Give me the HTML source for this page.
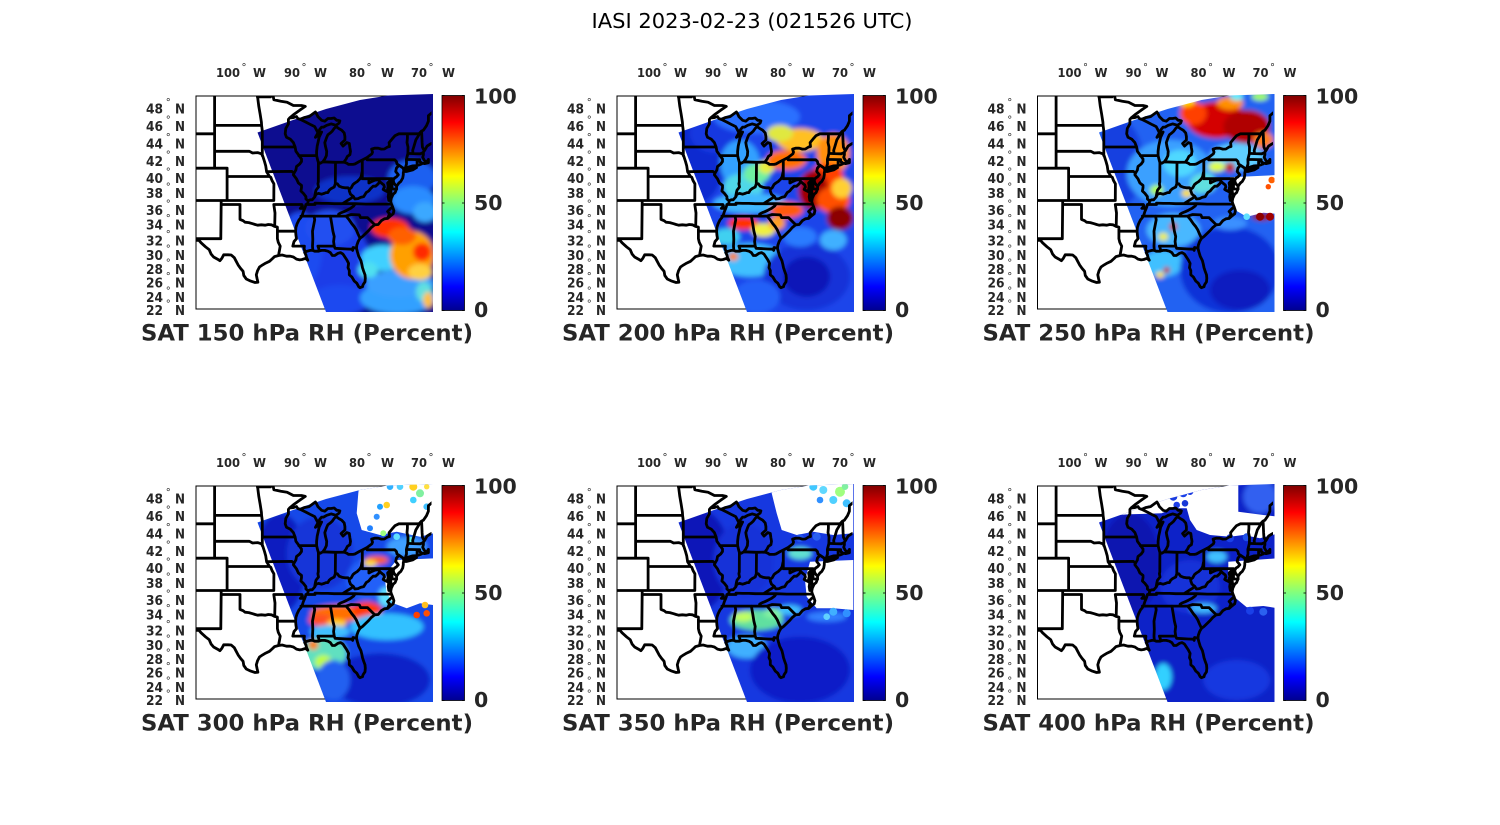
<!DOCTYPE html>
<html><head><meta charset="utf-8">
<style>
html,body{margin:0;padding:0;background:#fff;width:1500px;height:825px;overflow:hidden;}
svg{display:block;}
text{font-family:"DejaVu Sans","Liberation Sans",sans-serif;}
</style></head>
<body>
<svg id="s" width="1500" height="825" viewBox="0 0 1500 825" xmlns="http://www.w3.org/2000/svg">
<defs>
 <linearGradient id="jet" x1="0" y1="1" x2="0" y2="0">
  <stop offset="0" stop-color="#00008f"/>
  <stop offset="0.11" stop-color="#0000ff"/>
  <stop offset="0.365" stop-color="#00ffff"/>
  <stop offset="0.5" stop-color="#80ff80"/>
  <stop offset="0.625" stop-color="#ffff00"/>
  <stop offset="0.875" stop-color="#ff0000"/>
  <stop offset="1" stop-color="#800000"/>
 </linearGradient>
 <clipPath id="boxclip"><rect x="196" y="96" width="235.5" height="213"/></clipPath>
 <clipPath id="swath"><polygon points="257.5,132.5 293,120 326,109 360,100 388,95.5 433,94 433,312 326,312"/></clipPath>
 <filter id="blur" x="-20%" y="-20%" width="140%" height="140%"><feGaussianBlur stdDeviation="2.5"/></filter>
</defs>
<rect x="0" y="0" width="1500" height="825" fill="#fff"/>
<text x="752" y="28" font-size="20.5" text-anchor="middle" textLength="321" lengthAdjust="spacingAndGlyphs" fill="#000">IASI 2023-02-23 (021526 UTC)</text>
</svg>
<script>
const NS="http://www.w3.org/2000/svg";
const svg=document.getElementById('s');
function el(tag,attrs,parent,text){const e=document.createElementNS(NS,tag);for(const k in attrs)e.setAttribute(k,attrs[k]);if(text!=null)e.textContent=text;(parent||svg).appendChild(e);return e;}
function merc(lat){return Math.log(Math.tan(Math.PI/4+lat*Math.PI/360));}
function P(lw,lat){return [240+(100-lw)*6.28, 451.1-360*merc(lat)];}
const LINES=[
[[104.05,49.6],[104.05,41.0]],
[[108,45.0],[104.05,45.0]],
[[108,41.0],[102.05,41.0],[102.05,37.0]],
[[108,37.0],[94.62,37.0]],
[[103.0,37.0],[103.06,32.0],[108,32.0]],
[[103.0,36.5],[100.0,36.5],[100.0,34.56],[99.5,34.4],[99.2,34.2],[98.6,34.15],[98.0,34.0],[97.6,33.9],[97.2,33.8],[96.6,33.85],[96.0,33.8],[95.5,33.9],[95.0,33.85],[94.5,33.65],[94.04,33.55],[94.04,33.0],[94.04,32.0],[93.9,31.5],[93.6,31.0],[93.7,30.5],[93.8,30.0],[93.85,29.7]],
[[94.04,33.0],[91.15,33.0]],
[[94.62,36.5],[94.43,35.4],[94.48,33.64]],
[[94.62,37.0],[94.6,39.1],[94.9,39.5],[95.1,39.9],[95.31,40.0],[95.77,40.58],[95.9,41.3],[96.1,41.8],[96.4,42.5],[96.6,42.7],[97.2,42.85],[98.0,42.8],[98.5,43.0],[104.05,43.0]],
[[102.05,40.0],[95.31,40.0]],
[[104.05,45.94],[96.56,45.94]],
[[97.23,49.6],[97.2,49.0],[97.0,48.0],[96.8,47.2],[96.6,46.3],[96.56,45.94],[96.5,45.6],[96.45,45.3],[96.45,43.5],[96.45,42.5]],
[[96.45,43.5],[91.22,43.5]],
[[95.77,40.58],[91.73,40.61],[91.4,40.4]],
[[92.1,46.75],[92.3,46.6],[92.3,46.1],[92.7,45.6],[92.8,45.0],[92.6,44.6],[92.0,44.4],[91.5,44.0],[91.22,43.5],[91.1,43.0],[90.7,42.6],[90.2,42.1],[90.2,41.8],[90.5,41.5],[91.0,41.2],[91.1,40.8],[91.4,40.4],[91.5,40.2],[91.0,39.7],[90.7,39.2],[90.2,38.9],[90.2,38.6],[90.3,38.2],[89.9,37.9],[89.5,37.5],[89.5,37.2],[89.15,36.98],[89.2,36.6],[89.5,36.5],[89.6,36.2],[89.7,36.0],[89.9,35.6],[90.1,35.1],[90.3,34.8],[90.6,34.5],[90.9,34.0],[91.1,33.5],[91.15,33.0],[91.1,32.5],[91.0,32.0],[91.4,31.6],[91.6,31.0],[89.75,31.0],[89.8,30.6],[89.6,30.2]],
[[94.62,36.5],[90.15,36.5],[90.05,36.3],[90.4,36.0],[89.7,36.0]],
[[89.5,36.5],[88.05,36.5],[88.05,36.68],[87.0,36.64],[86.0,36.63],[85.0,36.6],[83.68,36.6],[81.65,36.6],[80.0,36.55],[78.0,36.55],[76.5,36.55],[75.87,36.55]],
[[83.68,36.6],[82.9,37.0],[82.3,37.3],[81.97,37.54],[82.4,37.8],[82.6,38.2],[82.6,38.42]],
[[90.3,35.0],[88.2,35.0],[85.6,35.0],[84.3,35.0],[83.1,35.0]],
[[81.65,36.6],[81.9,36.3],[82.4,36.0],[83.0,35.75],[83.5,35.55],[84.0,35.4],[84.3,35.25],[84.32,35.0]],
[[83.1,35.0],[82.3,35.2],[81.0,35.15],[80.9,35.0],[80.8,34.8],[79.7,34.8],[78.55,33.85]],
[[83.1,35.0],[82.7,34.6],[82.2,34.0],[81.8,33.6],[81.5,33.2],[81.2,32.6],[80.88,32.04]],
[[88.2,35.0],[88.1,34.5],[88.45,33.0],[88.4,31.9],[88.45,31.0],[88.4,30.4]],
[[85.6,35.0],[85.4,34.0],[85.2,33.0],[85.0,32.3],[85.1,31.6],[85.0,31.0]],
[[87.5,30.3],[87.4,30.5],[87.6,31.0],[85.0,31.0],[84.86,30.7],[83.0,30.6],[82.2,30.57],[82.05,30.4],[82.0,30.8],[81.45,30.7]],
[[90.64,42.5],[87.8,42.5]],
[[87.52,41.7],[87.53,39.35],[87.6,39.1],[87.5,38.7],[87.9,38.3],[88.0,38.0],[88.1,37.5]],
[[89.15,36.98],[88.8,37.1],[88.5,37.1],[88.1,37.45],[87.9,37.8],[87.5,37.9],[87.0,37.8],[86.6,37.9],[86.3,38.0],[86.0,38.0],[85.8,38.3],[85.5,38.5],[85.0,38.7],[84.82,39.1],[84.5,39.1],[84.2,38.8],[83.7,38.65],[83.3,38.6],[82.8,38.6],[82.6,38.42],[82.3,38.6],[82.0,39.0],[81.7,39.2],[81.3,39.4],[80.9,39.7],[80.7,40.0],[80.6,40.4],[80.52,40.64]],
[[84.82,39.1],[84.8,41.7]],
[[87.2,41.6],[86.82,41.76],[84.8,41.7],[83.45,41.73]],
[[83.45,41.73],[83.0,41.6],[82.7,41.45],[82.0,41.45],[81.7,41.5],[81.0,41.8],[80.52,41.98],[79.76,42.27],[79.0,42.7],[78.9,42.9]],
[[87.8,42.5],[87.65,42.0],[87.53,41.7],[87.2,41.6]],
[[87.8,42.5],[87.8,43.0],[87.7,43.6],[87.55,44.1],[87.4,44.6],[87.0,45.2],[87.6,44.8],[88.0,44.6],[87.6,45.1]],
[[90.4,46.6],[89.5,46.3],[88.7,46.0],[88.1,45.8],[87.8,45.4],[87.6,45.1]],
[[92.1,46.75],[91.5,46.8],[91.0,46.9],[90.8,46.7],[90.4,46.6],[89.8,46.8],[89.0,46.9],[88.4,47.2],[88.0,47.4],[87.8,47.2],[87.6,46.9],[87.0,46.5],[86.5,46.4],[86.0,46.7],[85.5,46.7],[85.0,46.75],[84.6,46.5],[84.4,46.5],[84.1,46.45],[84.2,46.2],[84.7,45.95],[85.5,46.1],[86.2,45.95],[86.7,45.75],[87.0,45.75],[87.3,45.5],[87.6,45.1]],
[[92.1,46.75],[91.5,47.1],[90.5,47.6],[89.6,48.0],[90.2,48.1],[91.5,48.1],[92.5,48.45],[93.5,48.55],[94.6,48.7],[94.8,49.3],[95.15,49.38],[95.15,49.0],[97.23,49.0]],
[[86.82,41.76],[86.5,42.1],[86.25,42.5],[86.2,43.0],[86.4,43.6],[86.5,44.0],[86.2,44.6],[86.0,44.9],[85.6,45.1],[85.3,45.3],[85.0,45.6],[84.7,45.8],[84.3,45.6],[83.8,45.4],[83.4,45.1],[83.3,44.7],[83.3,44.3],[83.9,43.9],[83.6,43.6],[83.0,44.0],[82.6,43.9],[82.5,43.4],[82.4,43.0],[82.5,42.6],[82.9,42.4],[83.1,42.1],[83.45,41.73]],
[[80.52,41.98],[80.52,39.72],[79.48,39.72],[75.78,39.72]],
[[79.48,39.72],[79.48,39.2],[79.0,39.4],[78.5,39.55],[78.0,39.6],[77.7,39.35],[77.5,39.2],[77.1,38.95],[77.0,38.7],[77.2,38.4],[77.0,38.3],[76.5,38.1],[76.2,37.9]],
[[77.8,39.3],[78.0,39.1],[78.4,38.8],[78.8,38.8],[79.2,38.5],[79.5,38.2],[79.9,38.0],[80.3,37.5],[80.8,37.4],[81.2,37.25],[81.7,37.2],[81.97,37.54]],
[[79.76,42.27],[79.76,42.0],[75.36,42.0],[75.1,41.8],[75.0,41.5],[74.7,41.36],[75.1,41.0],[75.2,40.6],[74.8,40.2],[75.1,39.95],[75.4,39.8],[75.6,39.5],[75.5,39.2],[75.3,39.0],[75.05,38.8]],
[[74.7,41.36],[74.0,41.0],[73.9,40.6]],
[[75.78,39.72],[75.79,38.45],[75.05,38.45]],
[[97.15,25.95],[97.3,26.5],[97.4,27.0],[97.2,27.6],[96.9,28.1],[96.4,28.4],[95.9,28.65],[95.3,28.9],[94.8,29.3],[94.5,29.55],[93.85,29.7],[93.3,29.77],[92.6,29.6],[92.0,29.6],[91.5,29.5],[91.0,29.2],[90.5,29.1],[90.1,29.15],[89.6,29.3],[89.2,29.05],[89.4,29.4],[89.5,29.8],[89.7,30.1],[89.6,30.2],[89.3,30.3],[88.8,30.4],[88.4,30.4],[88.1,30.3],[87.8,30.3],[87.5,30.3],[87.0,30.4],[86.5,30.4],[86.0,30.3],[85.6,30.1],[85.3,29.7],[84.9,29.7],[84.4,30.0],[84.0,30.1],[83.6,29.9],[83.3,29.5],[83.0,29.1],[82.7,28.6],[82.8,28.0],[82.6,27.6],[82.6,27.0],[82.2,26.7],[81.8,26.1],[81.4,25.8],[81.1,25.3],[80.9,25.15],[80.5,25.3],[80.4,25.6],[80.1,26.0],[80.05,26.5],[80.1,27.0],[80.3,27.5],[80.5,28.0],[80.6,28.5],[80.75,29.0],[81.1,29.6],[81.3,30.2],[81.45,30.7],[81.4,31.1],[81.2,31.6],[80.9,32.04],[80.5,32.3],[80.0,32.7],[79.5,33.1],[79.1,33.5],[78.55,33.85],[78.0,33.9],[77.5,34.4],[77.0,34.65],[76.5,34.7],[76.0,35.05],[75.6,35.3],[75.5,35.7],[75.7,36.2],[75.9,36.6],[76.0,36.9],[75.9,37.3],[75.6,37.8],[75.3,38.0],[75.1,38.4],[75.05,38.8],[75.3,39.0]],
[[76.5,34.7],[76.2,35.3],[76.5,35.6],[76.0,36.0],[75.7,36.2]],
[[76.3,37.0],[76.4,37.5],[76.3,38.0],[76.5,38.4],[76.4,38.8],[76.5,39.2],[76.1,39.5],[75.9,39.5],[76.1,39.0],[76.2,38.6],[76.0,38.2],[75.9,37.7],[76.0,37.2]],
[[74.95,38.93],[74.7,39.2],[74.4,39.4],[74.1,39.8],[74.0,40.2],[74.0,40.45],[73.95,40.6]],
[[73.95,40.6],[73.5,40.6],[72.5,40.8],[71.9,41.07],[72.5,41.0],[73.5,40.9],[73.8,40.8]],
[[73.7,40.95],[73.3,41.1],[72.5,41.27],[71.9,41.3],[71.4,41.4],[71.2,41.5],[70.9,41.6],[70.6,41.55],[70.0,41.65],[70.0,42.05],[70.2,41.8],[70.5,41.8],[70.7,42.0],[70.9,42.3],[70.8,42.6],[70.8,42.9],[70.6,43.1],[70.2,43.6],[69.8,43.8],[69.0,44.1]],
[[108,31.78],[106.53,31.78],[106.2,31.45],[105.5,30.9],[104.9,30.5],[104.6,29.9],[104.2,29.5],[103.6,29.2],[103.2,28.98],[102.9,29.3],[102.6,29.8],[101.9,29.8],[101.4,29.77],[100.9,29.4],[100.6,28.9],[100.3,28.4],[99.9,27.9],[99.5,27.5],[99.4,26.9],[99.0,26.4],[98.3,26.1],[97.6,25.9],[97.15,25.95]],
[[73.35,45.0],[73.35,44.5],[73.4,44.0],[73.25,43.5],[73.27,42.75],[73.5,42.05],[73.49,41.5],[73.65,41.1]],
[[78.9,42.9],[79.05,43.25],[78.5,43.37],[78.0,43.36],[77.5,43.25],[77.0,43.27],[76.5,43.5],[76.2,43.55],[76.25,44.0],[75.8,44.4],[75.3,44.8],[74.7,45.0],[73.35,45.0],[71.5,45.01],[71.1,45.3],[70.8,45.4],[70.3,45.9],[70.0,46.4],[70.0,47.0],[69.2,47.45]],
[[72.45,42.73],[72.5,43.1],[72.3,43.6],[72.0,44.3],[71.5,44.9],[71.5,45.01]],
[[73.27,42.75],[72.45,42.73],[71.3,42.7],[71.0,42.8],[70.8,42.87]],
[[70.7,43.1],[70.95,43.5],[71.0,44.0],[71.08,45.3]],
[[73.5,42.05],[72.8,42.03],[71.8,42.02],[71.38,42.02],[71.4,41.8],[71.2,41.7],[71.1,41.5]],
[[71.8,42.02],[71.8,41.33]]
];
let D='';
LINES.forEach(l=>{D+='M'+l.map(q=>{const p=P(q[0],q[1]);return p[0].toFixed(1)+','+p[1].toFixed(1);}).join('L');});

const panels=[
 {ox:0,oy:0,lev:150,img:true,base:'#0b0b90',
  blobs:[['#1030c8',350,190,35,14],['#1a3ce8',330,268,42,50],['#1a4cf0',300,250,22,38],['#2050f0',330,228,25,18],['#1a48f0',340,300,30,15],
   ['#1a60f0',412,178,24,18],['#2a8cff',413,200,22,14],['#3aa8ff',425,212,12,10],
   ['#30a0ff',398,298,38,16],['#3aa0ff',400,284,34,14],['#40d0ff',383,258,22,13],['#50e0f0',368,270,10,8],
   ['#ffa000',412,255,22,24],['#ff3000',390,228,19,10],['#ff6000',402,236,14,9],['#ff2a00',422,252,9,9],
   ['#ffd040',420,272,12,8],['#60e0e0',424,292,8,10],['#ffc040',428,300,5,8]],
  holes:[],dots:[]},
 {ox:421,oy:0,lev:200,zo:[600,90],base:'#1a44ea',
  blobs:[['#0e2ad0',290,220,80,120],['#1638e0',350,130,80,60],['#2a70ff',470,80,130,50],['#30a0ff',420,220,60,70],['#50d8e8',430,290,60,40],['#70f0a0',470,250,40,30],['#e8f040',500,230,25,20],['#ffc020',600,150,70,35],['#e0e840',540,130,40,25],['#ff9010',700,190,50,60],['#ff7000',560,210,60,30],['#ff4000',680,260,50,40],['#a00000',640,300,45,60],['#ff5000',700,330,50,40],['#8c0000',720,385,40,35],['#ffd030',725,295,30,30],['#40b8ff',450,340,110,30],['#ff5a10',560,360,50,25],['#ff3000',430,400,45,20],['#f0f040',490,420,35,20],['#40d0f0',380,440,40,25],['#ffa020',530,400,25,20],['#40c0ff',450,510,100,50],['#ff8000',400,500,15,12],['#1232d8',620,560,130,100],['#0818b8',620,560,70,60],['#2a7cff',600,440,50,30],['#40b0ff',700,450,40,30],['#2060f8',470,620,70,50]],
  holes:[],dots:[]},
 {ox:841.5,oy:0,lev:250,zo:[1030,90],base:'#2262f2',
  blobs:[['#1840e0',270,220,70,130],['#3aa0ff',420,250,130,100],['#50d8ff',450,220,50,40],['#b0ff50',380,300,20,15],['#ffe020',470,310,15,12],['#60e0e0',520,280,40,30],['#d40000',560,90,90,55],['#b00000',650,110,70,50],['#ff4000',490,70,40,35],['#ff9000',600,40,40,20],['#ffd000',470,35,25,15],['#60f0ff',620,20,20,12],['#a0ff60',690,20,25,12],['#ff8020',700,150,30,25],['#60d0ff',620,200,80,40],['#e0ff40',560,230,25,15],['#c02000',600,232,15,15],['#48b8ff',430,420,80,50],['#c83010',430,410,12,12],['#f0f040',400,440,15,12],['#40c0ff',400,520,60,40],['#ffe030',390,555,12,10],['#c02000',410,540,10,10],['#1030d8',600,540,150,130],['#0a1cc0',630,600,90,60],['#3a90ff',600,400,50,20],['#8c0000',695,380,30,12]],
  holes:[[[600,262],[745,255],[745,372],[700,368],[650,380],[615,360],[598,320]]],
  dots:[['#ff6000',725,270,10],['#ff5000',715,290,8],['#8c0000',690,380,12],['#a00000',720,380,12],['#60e0ff',650,380,10]]},
 {ox:0,oy:390,lev:300,zo:[180,480],base:'#1848e8',
  blobs:[['#0c1ec0',300,250,80,150],['#1434d8',420,220,100,110],['#2060f8',560,300,60,60],['#ff7000',480,400,90,25],['#ff3a00',560,390,45,25],['#ff5020',420,420,35,18],['#ffd020',470,430,30,12],['#40c0ff',450,455,60,20],['#ff6000',590,240,35,12],['#ffe040',570,250,20,10],['#60e0ff',620,350,25,30],['#60e0c0',430,520,70,50],['#c0ff40',430,545,25,20],['#ff8000',400,495,15,15],['#30c0ff',620,440,110,40],['#0c20c8',600,600,150,80],['#2060f0',460,600,50,60],['#40a0ff',680,200,60,30]],
  holes:[[[540,0],[760,0],[760,160],[720,170],[650,155],[600,165],[545,150],[530,100],[535,40]],[[650,240],[760,235],[760,375],[720,370],[680,385],[640,370],[620,340],[615,300],[630,265]]],
  dots:[['#30b0ff',630,20,10],['#50d0ff',660,20,10],['#ffd020',700,20,12],['#80f0a0',720,40,12],['#40d0ff',700,60,10],['#ffd020',620,75,10],['#20a0ff',600,80,9],['#3090ff',590,110,9],['#2080ff',570,145,9],['#a0ff80',610,160,9],['#60e0ff',650,170,10],['#40c0ff',740,80,10],['#ffe040',740,20,8],['#60f0e0',690,180,10],['#ffc020',735,375,10],['#ff4000',710,405,10],['#ff5000',740,400,10]]},
 {ox:421,oy:390,lev:350,zo:[600,480],base:'#1838e0',
  blobs:[['#0c16b8',300,240,90,150],['#1430d8',430,240,90,110],['#60e0a0',470,420,80,30],['#c0ff60',430,410,30,15],['#80f0a0',520,400,30,15],['#40c0ff',570,390,35,15],['#40b0ff',440,500,60,35],['#60e0d0',600,220,35,18],['#0c1cc8',600,570,150,100],['#3080ff',680,410,60,15]],
  holes:[[[520,0],[760,0],[760,160],[700,165],[640,155],[590,165],[545,150],[530,100],[515,40]],[[630,245],[760,240],[760,390],[700,385],[650,385],[620,350],[615,300]]],
  dots:[['#40c8ff',640,20,12],['#60d8ff',670,30,12],['#a0ff80',720,35,15],['#50d0ff',700,60,12],['#40c0ff',740,70,12],['#80f0a0',735,20,10],['#3090ff',660,60,10],['#40b0ff',700,395,12],['#3090ff',740,400,12],['#60d0ff',680,410,10],['#2050e8',600,175,12],['#2a60f0',650,170,12]]},
 {ox:841.5,oy:390,lev:400,zo:[1030,480],base:'#0e22c8',
  blobs:[['#0a14b0',300,250,90,150],['#1430d8',480,320,90,80],['#40c0ff',560,230,30,18],['#40b8ff',520,385,40,15],['#30d0ff',400,590,25,40],['#1838e0',620,600,100,60],['#3060f0',690,50,50,50]],
  holes:[[[215,108],[215,0],[625,0],[625,95],[700,105],[745,110],[745,160],[690,175],[640,165],[600,170],[540,165],[500,150],[480,120],[470,85],[430,85],[395,100],[300,103]],[[595,245],[745,235],[745,385],[700,378],[650,382],[612,350],[595,300]]],
  dots:[['#1a3ce0',430,50,12],['#1a40e8',460,40,12],['#1838e0',480,35,10],['#2040e8',440,75,10],['#1838d8',465,70,10],['#1a40e8',600,175,12],['#2050e8',650,172,12],['#2a60f0',700,395,12],['#1a40e8',660,392,12]]}
];
const LAT=[[48,113.3],[46,131],[44,148.3],[42,166],[40,183],[38,198],[36,215],[34,229.3],[32,245.7],[30,260],[28,274],[26,287.7],[24,302],[22,315]];
const LON=[['100',216,244,253,24],['90',284,304,314,16],['80',349,369,381,16],['70',411,431,442,16]];
panels.forEach(p=>{
 const Z=p.img?((x,y)=>[x,y]):((zx,zy)=>[p.zo[0]+zx/3-p.ox, p.zo[1]+zy/3-p.oy]);
 const sc=p.img?1:1/3;
 const g=el('g',{transform:`translate(${p.ox},${p.oy})`});
 el('rect',{x:196,y:96,width:235.5,height:213,fill:'none',stroke:'#000','stroke-width':1},g);
 const dg=el('g',{'clip-path':'url(#swath)'},g);
 const bg=el('g',{filter:'url(#blur)'},dg);
 el('rect',{x:245,y:85,width:200,height:240,fill:p.base},bg);
 p.blobs.forEach(b=>{const c=Z(b[1],b[2]);el('ellipse',{cx:c[0].toFixed(1),cy:c[1].toFixed(1),rx:(b[3]*sc).toFixed(1),ry:(b[4]*sc).toFixed(1),fill:b[0]},bg);});
 p.holes.forEach(h=>{el('polygon',{points:h.map(q=>Z(q[0],q[1]).map(v=>v.toFixed(1)).join(',')).join(' '),fill:'#fff'},dg);});
 p.dots.forEach(d=>{const c=Z(d[1],d[2]);el('circle',{cx:c[0].toFixed(1),cy:c[1].toFixed(1),r:(d[3]*sc).toFixed(1),fill:d[0]},dg);});
 el('path',{d:D,fill:'none',stroke:'#000','stroke-width':2.8,'stroke-linejoin':'round','stroke-linecap':'round','clip-path':'url(#boxclip)'},g);
 el('rect',{x:442,y:95.5,width:22.5,height:215,fill:'url(#jet)',stroke:'#000','stroke-width':0.8},g);
 [95.5,203,310.5].forEach(y=>{el('line',{x1:442,y1:y,x2:444.5,y2:y,stroke:'#000','stroke-width':0.8},g);el('line',{x1:464.5,y1:y,x2:462,y2:y,stroke:'#000','stroke-width':0.8},g);});
 const cb={fill:'#262626','font-weight':'bold','font-size':20.5};
 el('text',Object.assign({x:474,y:103.5},cb),g,'100');
 el('text',Object.assign({x:474,y:210},cb),g,'50');
 el('text',Object.assign({x:474,y:317},cb),g,'0');
 LON.forEach(([n,x,rx,wx,tl])=>{
  el('text',{x:x,y:77,fill:'#262626','font-weight':'bold','font-size':12.5,textLength:tl,lengthAdjust:'spacingAndGlyphs'},g,n);
  el('text',{x:rx,y:70.5,fill:'#262626','font-size':10,'text-anchor':'middle'},g,'°');
  el('text',{x:wx,y:77,fill:'#262626','font-weight':'bold','font-size':12.5,textLength:13,lengthAdjust:'spacingAndGlyphs'},g,'W');
 });
 LAT.forEach(([v,y])=>{
  el('text',{x:146,y:y,fill:'#262626','font-weight':'bold','font-size':13,textLength:17,lengthAdjust:'spacingAndGlyphs'},g,String(v));
  el('text',{x:168.3,y:(y-8).toFixed(1),fill:'#262626','font-size':10,'text-anchor':'middle'},g,'°');
  el('text',{x:175,y:y,fill:'#262626','font-weight':'bold','font-size':13,textLength:10,lengthAdjust:'spacingAndGlyphs'},g,'N');
 });
 el('text',{x:141,y:340.7,fill:'#262626','font-weight':'bold','font-size':22.6,textLength:332,lengthAdjust:'spacingAndGlyphs'},g,'SAT '+p.lev+' hPa RH (Percent)');
});
</script>
</body></html>
